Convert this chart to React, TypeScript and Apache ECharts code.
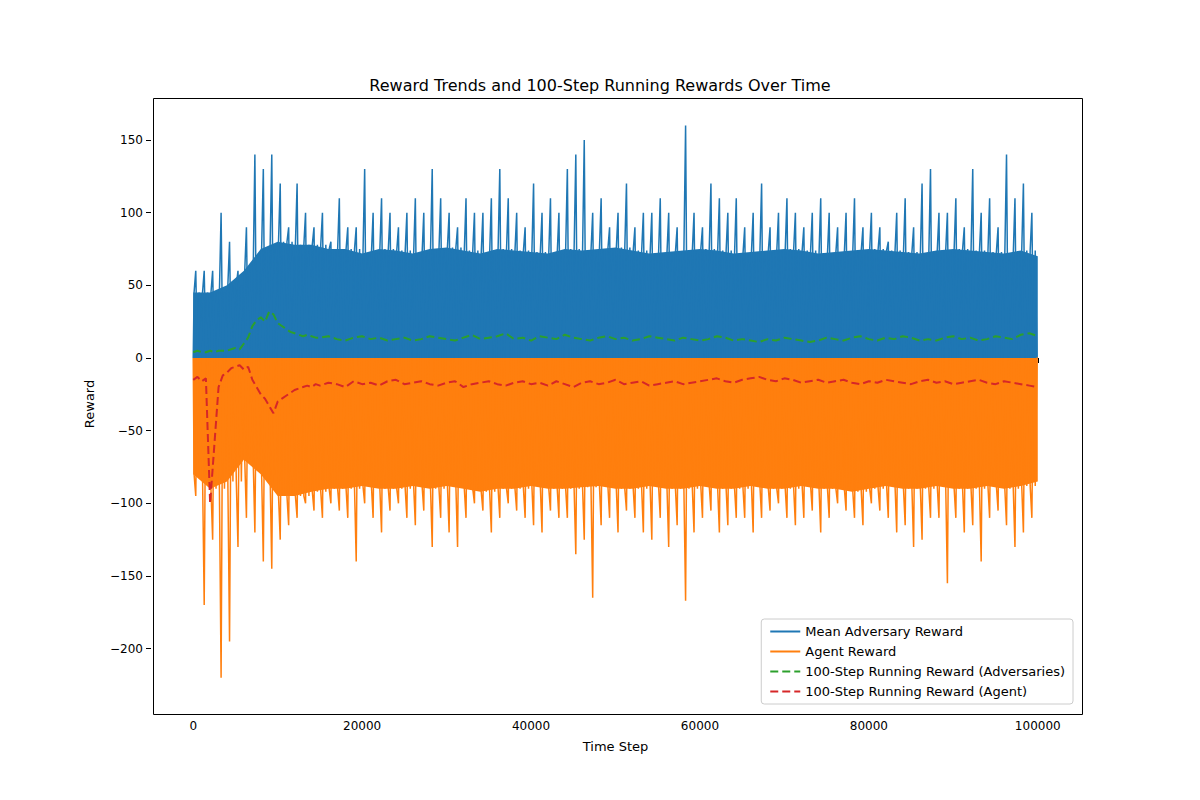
import React, { useEffect, useRef } from 'react';
import * as echarts from 'echarts';

// spikes per 1000-step bucket
const advPeaks = [60,60,60,100,80,60,90,140,130,140,120,90,120,100,90,100,80,110,90,90,130,100,110,100,90,100,110,100,130,110,100,90,110,100,100,110,130,110,100,90,120,100,110,100,130,140,150,100,110,90,100,120,90,100,100,110,100,90,160,100,90,120,110,100,110,90,100,120,90,100,110,100,90,100,110,100,90,100,110,90,100,90,80,100,110,90,120,130,100,100,110,90,130,100,110,90,140,110,120,100];
const agentTroughs = [-95,-170,-125,-220,-195,-130,-110,-120,-140,-145,-125,-115,-110,-100,-105,-110,-100,-105,-110,-140,-100,-110,-120,-105,-100,-110,-115,-105,-130,-110,-120,-130,-110,-100,-105,-120,-110,-100,-105,-110,-115,-120,-105,-110,-110,-135,-125,-165,-115,-110,-120,-105,-110,-120,-125,-110,-130,-115,-167,-120,-110,-105,-120,-115,-110,-110,-120,-110,-105,-100,-110,-115,-110,-105,-120,-110,-100,-105,-110,-115,-100,-105,-110,-120,-115,-130,-125,-110,-110,-155,-110,-120,-115,-140,-110,-105,-115,-130,-120,-110];
// dense body of the raw signals, every 2000 steps
const advBand = [45,45,50,60,75,80,78,78,75,75,72,75,74,72,75,76,74,72,75,74,73,72,75,74,75,76,74,72,73,74,75,74,72,73,74,75,74,72,73,74,75,74,73,72,74,75,74,73,72,74,70];
const agentBand = [-80,-90,-85,-70,-80,-95,-95,-92,-90,-90,-88,-90,-90,-88,-90,-88,-90,-92,-90,-90,-88,-90,-90,-89,-88,-90,-90,-88,-90,-90,-88,-90,-90,-88,-90,-90,-88,-90,-90,-92,-90,-88,-90,-90,-88,-90,-90,-88,-90,-88,-85];
// running rewards
const runSteps = [
  ...Array.from({ length: 30 }, (_, i) => i * 500),
  ...Array.from({ length: 86 }, (_, i) => 15000 + i * 1000),
];
const greenVals = [4,5,4,4,5,4,5,5,5,6,7,6,10,14,22,26,28,25,32,30,24,22,20,18,17,16,15,16,15,14,
  14,15,13,12,14,15,13,14,12,13,14,12,13,15,14,13,12,14,16,13,14,15,17,13,14,12,15,14,13,16,14,13,12,14,15,13,14,12,13,15,14,13,12,14,13,12,13,15,14,12,13,12,11,13,12,14,13,12,11,12,14,13,12,14,15,13,12,14,13,15,14,12,13,12,14,15,13,14,12,13,15,14,13,16,17,15];
const redVals = [-15,-13,-16,-14,-100,-60,-20,-12,-10,-7,-6,-5,-8,-6,-15,-20,-25,-28,-33,-38,-30,-28,-26,-24,-22,-21,-20,-19,-20,-18,
  -19,-17,-18,-20,-16,-18,-17,-19,-16,-15,-18,-17,-16,-18,-19,-17,-16,-20,-18,-17,-16,-18,-19,-17,-16,-18,-17,-19,-16,-18,-20,-17,-16,-18,-17,-15,-18,-17,-16,-19,-18,-17,-16,-18,-17,-16,-15,-14,-16,-17,-15,-14,-13,-15,-16,-14,-15,-17,-16,-15,-17,-16,-15,-17,-18,-16,-17,-15,-16,-17,-18,-16,-15,-17,-16,-18,-17,-16,-15,-17,-18,-16,-17,-18,-19,-20];
const xTicks = [0, 20000, 40000, 60000, 80000, 100000];
const yTicks = [-200, -150, -100, -50, 0, 50, 100, 150];

const C = { adv: '#1f77b4', agent: '#ff7f0e', green: '#2ca02c', red: '#d62728' };

function spikes(peaks: number[], band: number[]) {
  const pts: number[][] = [[0, 0]];
  peaks.forEach((p, i) => {
    const x = i * 1000;
    const b = band[Math.floor(i / 2)];
    pts.push([x + 100, b], [x + 300, p], [x + 500, 0], [x + 700, b], [x + 900, 0]);
  });
  pts.push([100000, 0]);
  return pts;
}

export default function App() {
  const ref = useRef<HTMLDivElement | null>(null);

  useEffect(() => {
    if (!ref.current) return;
    const chart = echarts.init(ref.current, undefined, { renderer: 'svg' });
    const font = 'DejaVu Sans';
    const band = (vals: number[], color: string, name: string) => ({
      name, type: 'line', symbol: 'none', silent: true,
      data: vals.map((v, i) => [Math.min(i * 2000, 100000), v]),
      lineStyle: { width: 0 }, itemStyle: { color }, areaStyle: { color, opacity: 1, origin: 0 },
    });
    chart.setOption({
      animation: false,
      textStyle: { fontFamily: font },
      title: { text: 'Reward Trends and 100-Step Running Rewards Over Time', left: 'center', top: 72,
        textStyle: { fontSize: 16, fontWeight: 'normal', color: '#000', fontFamily: font } },
      grid: { left: 151, right: 120, top: 96, bottom: 88 },
      graphic: [{ type: 'rect', left: 151, top: 96, shape: { width: 929, height: 616 }, silent: true, z: 100,
        style: { fill: 'none', stroke: '#000', lineWidth: 1 } }],
      legend: {
        data: ['Mean Adversary Reward', 'Agent Reward', '100-Step Running Reward (Adversaries)', '100-Step Running Reward (Agent)'],
        orient: 'vertical', right: 127, bottom: 96, backgroundColor: '#fff', borderColor: '#ccc', borderWidth: 1,
        borderRadius: 3, padding: [6, 8], itemGap: 7, itemWidth: 30, itemHeight: 8,
        itemStyle: { opacity: 0 },
        textStyle: { fontSize: 13, color: '#000', fontFamily: font },
      },
      xAxis: {
        type: 'value', min: -5000, max: 105000,
        name: 'Time Step', nameLocation: 'middle', nameGap: 28, nameTextStyle: { fontSize: 13, color: '#000' },
        axisLine: { show: false }, axisTick: { lineStyle: { color: '#000' }, customValues: xTicks },
        axisLabel: { color: '#000', fontSize: 12, customValues: xTicks, formatter: (v: number) => String(v) },
        splitLine: { show: false },
      },
      yAxis: {
        type: 'value', min: -243.6, max: 180.3,
        name: 'Reward', nameLocation: 'middle', nameGap: 55, nameTextStyle: { fontSize: 13, color: '#000' },
        axisLine: { show: false, onZero: false }, axisTick: { show: true, lineStyle: { color: '#000' }, customValues: yTicks },
        axisLabel: { color: '#000', fontSize: 12, customValues: yTicks, formatter: (v: number) => String(v).replace('-', '\u2212') },
        splitLine: { show: false },
      },
      series: [
        band(advBand, C.adv, 'advBody'),
        band(agentBand, C.agent, 'agentBody'),
        { name: 'Mean Adversary Reward', type: 'line', symbol: 'none', data: spikes(advPeaks, advBand), lineStyle: { color: C.adv, width: 1.5 }, itemStyle: { color: C.adv } },
        { name: 'Agent Reward', type: 'line', symbol: 'none', data: spikes(agentTroughs, agentBand), lineStyle: { color: C.agent, width: 1.5 }, itemStyle: { color: C.agent } },
        { name: '100-Step Running Reward (Adversaries)', type: 'line', symbol: 'none', data: runSteps.map((x, i) => [x, greenVals[i]]), lineStyle: { color: C.green, width: 2, type: 'dashed' }, itemStyle: { color: C.green } },
        { name: '100-Step Running Reward (Agent)', type: 'line', symbol: 'none', data: runSteps.map((x, i) => [x, redVals[i]]), lineStyle: { color: C.red, width: 2, type: 'dashed' }, itemStyle: { color: C.red } },
      ],
    });
    return () => chart.dispose();
  }, []);

  return <div ref={ref} style={{ width: 1200, height: 800, margin: -8 }} />;
}
